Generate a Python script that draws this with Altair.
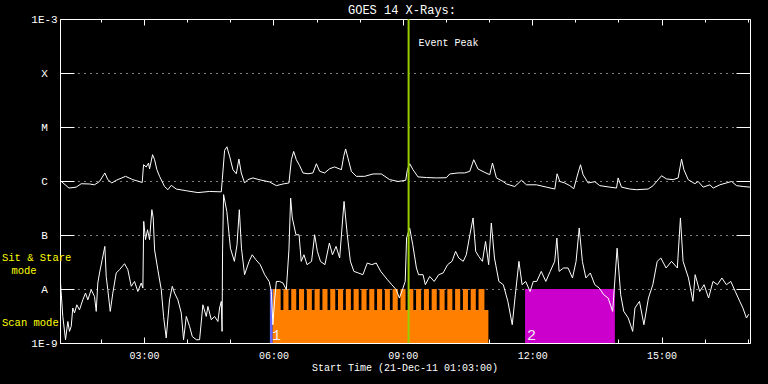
import altair as alt
import pandas as pd

FONT = "Liberation Mono"
ORANGE = "#FF8000"
MAGENTA = "#CC00CC"
BLUE = "#6464FF"
GREEN = "#99CC00"
YELLOW = "#FFFF00"

# ---------------- axes / labels ----------------
title_text = "GOES 14 X-Rays:"
x_title_text = "Start Time (21-Dec-11 01:03:00)"
t_start, t_end = 63, 1023                      # minutes after 00:00 UT
hour_ticks = [120, 180, 240, 300, 360, 420, 480, 540, 600, 660, 720, 780, 840, 900, 960, 1020]
labeled_hours = [180, 360, 540, 720, 900]
y_tick_values = [1e-9, 1e-8, 1e-7, 1e-6, 1e-5, 1e-4, 1e-3]
y_tick_labels = ["1E-9", "A", "B", "C", "M", "X", "1E-3"]

# ---------------- GOES long channel (1-8 A) ----------------
long_t = [63.0, 75.5, 85.6, 92.5, 104.1, 111.0, 118.0, 125.4, 129.5, 135.1,
          141.2, 154.2, 164.3, 177.4, 179.2, 183.0, 186.2, 187.6, 191.8, 194.6,
          197.8, 201.5, 208.5, 213.1, 217.8, 224.8, 238.7, 254.8, 271.1, 287.4,
          288.8, 292.0, 295.2, 299.0, 303.6, 308.3, 311.9, 315.2, 319.8, 324.4,
          331.4, 339.8, 354.6, 364.0, 373.2, 381.5, 384.9, 388.1, 391.8, 396.4,
          401.0, 408.0, 414.9, 419.7, 424.3, 431.2, 438.2, 445.1, 454.5, 457.7,
          460.4, 463.6, 468.4, 475.3, 486.9, 498.5, 510.1, 521.7, 533.3, 544.0,
          546.3, 549.5, 554.1, 561.1, 572.8, 586.7, 600.6, 605.2, 616.8, 626.1,
          633.1, 638.6, 644.6, 654.0, 660.9, 664.7, 670.2, 679.4, 684.2, 695.7,
          705.0, 712.0, 725.9, 739.8, 751.4, 754.6, 758.4, 765.3, 772.3, 777.8,
          783.8, 787.2, 790.8, 797.8, 807.1, 814.0, 828.0, 837.3, 839.5, 844.2,
          855.8, 865.1, 881.3, 888.2, 899.9, 906.9, 916.1, 923.0, 927.8, 931.0,
          937.0, 946.3, 950.9, 957.8, 967.2, 971.8, 981.1, 997.4, 1004.3, 1013.5,
          1022.9]
long_f = [1.03e-6, 7.4e-7, 7.7e-7, 8.9e-7, 8.8e-7, 8.5e-7, 9.8e-7, 1.41e-6, 1.06e-6, 9.2e-7,
          1.03e-6, 1.22e-6, 1.06e-6, 9.4e-7, 2.0e-6, 1.82e-6, 2.15e-6, 1.67e-6, 3.07e-6, 2.48e-6,
          1.62e-6, 1.22e-6, 7.9e-7, 6.9e-7, 8.3e-7, 7.1e-7, 6.6e-7, 6.1e-7, 6.4e-7, 6.3e-7,
          1.06e-6, 3.7e-6, 4.3e-6, 2.86e-6, 1.62e-6, 1.36e-6, 2.55e-6, 1.41e-6, 9.2e-7, 1.06e-6,
          1.14e-6, 1.06e-6, 9.6e-7, 8.2e-7, 8.8e-7, 9.2e-7, 2.48e-6, 3.53e-6, 2.48e-6, 1.92e-6,
          1.41e-6, 1.36e-6, 1.41e-6, 2.09e-6, 1.51e-6, 1.41e-6, 1.69e-6, 1.82e-6, 1.62e-6, 2.86e-6,
          3.92e-6, 2.67e-6, 1.51e-6, 1.22e-6, 1.22e-6, 1.35e-6, 1.35e-6, 1.06e-6, 9.8e-7, 1.03e-6,
          1.62e-6, 2.09e-6, 1.62e-6, 1.19e-6, 1.16e-6, 1.14e-6, 1.15e-6, 1.35e-6, 1.41e-6, 1.41e-6,
          1.51e-6, 2.48e-6, 1.67e-6, 1.44e-6, 1.31e-6, 2.15e-6, 1.14e-6, 9.8e-7, 8.8e-7, 7.9e-7,
          1.03e-6, 8.5e-7, 8.5e-7, 7.7e-7, 7.1e-7, 1.36e-6, 9.8e-7, 9.2e-7, 8.2e-7, 7.2e-7,
          1.41e-6, 2.0e-6, 1.31e-6, 9.2e-7, 9.7e-7, 8.2e-7, 7.7e-7, 7.4e-7, 1.14e-6, 7.7e-7,
          7.1e-7, 6.9e-7, 7.1e-7, 8.2e-7, 1.25e-6, 1.09e-6, 1.06e-6, 1.14e-6, 2.55e-6, 1.62e-6,
          1.06e-6, 8.9e-7, 9.8e-7, 7.7e-7, 8.5e-7, 7.4e-7, 8.5e-7, 9.8e-7, 8.2e-7, 7.9e-7,
          7.7e-7]

# ---------------- GOES short channel (0.5-4 A) ----------------
short_t = [63.7, 66.9, 70.7, 73.9, 76.2, 78.6, 80.8, 83.2, 86.4, 90.1,
           94.7, 98.5, 101.7, 106.4, 111.0, 113.4, 115.6, 118.0, 121.7, 125.4,
           127.3, 129.5, 132.9, 136.5, 141.2, 145.8, 152.8, 157.4, 162.1, 166.7,
           171.3, 176.0, 178.3, 179.5, 182.0, 184.8, 187.6, 190.8, 192.7, 194.6,
           199.1, 203.9, 207.1, 210.8, 215.4, 219.2, 222.4, 227.0, 231.7, 234.9,
           238.7, 243.3, 247.0, 252.6, 257.2, 261.8, 266.5, 268.8, 273.5, 278.1,
           282.7, 285.0, 287.4, 288.5, 289.2, 290.6, 295.1, 300.1, 305.6, 309.3,
           312.5, 315.5, 319.8, 326.1, 330.4, 335.4, 341.6, 347.8, 354.0, 357.0,
           359.2, 361.6, 364.0, 368.6, 373.2, 377.9, 381.5, 383.9, 386.2, 391.3,
           395.6, 398.6, 402.4, 406.7, 413.0, 417.3, 421.1, 425.4, 431.6, 437.8,
           442.1, 447.1, 452.1, 458.2, 462.7, 467.0, 471.9, 478.1, 484.4, 490.5,
           496.8, 502.9, 509.2, 518.5, 524.6, 530.9, 535.2, 540.2, 543.3, 545.2,
           549.5, 553.8, 558.9, 561.9, 568.1, 571.3, 577.4, 583.6, 589.9, 596.0,
           602.3, 608.4, 613.4, 617.8, 624.0, 628.3, 633.3, 637.7, 641.4, 645.7,
           650.7, 655.1, 659.4, 663.1, 667.5, 673.6, 679.8, 686.1, 692.2, 696.5,
           701.5, 705.9, 710.9, 717.0, 721.5, 726.3, 732.6, 738.9, 745.0, 751.3,
           754.3, 757.4, 763.6, 769.9, 776.0, 781.0, 785.4, 789.8, 794.7, 800.8,
           807.1, 813.3, 819.6, 825.7, 831.9, 838.1, 843.1, 847.4, 853.6, 859.8,
           862.9, 869.2, 875.4, 881.7, 887.8, 893.9, 898.9, 906.3, 913.8, 921.9,
           926.2, 929.9, 937.4, 943.6, 946.7, 953.0, 959.1, 965.4, 971.5, 977.7,
           983.9, 990.1, 996.3, 1002.5, 1008.8, 1013.1, 1018.1, 1021.2]
short_f = [1.29e-8, 3.1e-9, 1.15e-9, 2.5e-9, 1.64e-9, 2.03e-9, 4.45e-9, 3.6e-9, 5.1e-9, 4.1e-9,
           6.3e-9, 8.4e-9, 6.3e-9, 9.7e-9, 7.3e-9, 3.85e-9, 1.29e-8, 1.98e-8, 3.5e-8, 6.15e-8,
           1.71e-8, 9.7e-9, 3.85e-9, 8.4e-9, 1.98e-8, 2.28e-8, 2.94e-8, 2.28e-8, 1.12e-8, 1.38e-8,
           9.0e-9, 1.29e-8, 1.04e-8, 1.79e-7, 8.2e-8, 1.25e-7, 8.2e-8, 2.94e-7, 2.07e-7, 5.3e-8,
           2.28e-8, 9.7e-9, 3.1e-9, 1.24e-9, 6.3e-9, 1.12e-8, 8.4e-9, 6.3e-9, 3.6e-9, 1.15e-9,
           3.1e-9, 2.03e-9, 1.32e-9, 1.15e-9, 1.15e-9, 5.1e-9, 3.1e-9, 4.76e-9, 2.7e-9, 3.1e-9,
           2.5e-9, 4.45e-9, 5.9e-9, 1.64e-9, 5.3e-8, 5.6e-7, 2.73e-7, 5.7e-8, 3.25e-8, 6.6e-8,
           2.94e-7, 5.7e-8, 1.84e-8, 3.25e-8, 4.3e-8, 3.5e-8, 2.82e-8, 1.84e-8, 1.38e-8, 9.0e-9,
           2.18e-9, 6.3e-9, 1.38e-8, 1.38e-8, 1.29e-8, 9.7e-9, 5.3e-8, 4.84e-7, 2.07e-7, 1.01e-7,
           1.01e-7, 3.25e-8, 4.3e-8, 2.82e-8, 3.25e-8, 1.01e-7, 4.97e-8, 3.25e-8, 2.82e-8, 7.1e-8,
           4.3e-8, 6.15e-8, 3.75e-8, 4.19e-7, 1.01e-7, 3.25e-8, 2.12e-8, 1.98e-8, 1.84e-8, 3.03e-8,
           2.82e-8, 3.03e-8, 2.12e-8, 1.49e-8, 1.2e-8, 9.7e-9, 6.8e-9, 1.04e-8, 1.38e-8, 8.8e-8,
           1.35e-7, 6.6e-8, 2.45e-8, 1.84e-8, 1.84e-8, 1.2e-8, 1.71e-8, 1.38e-8, 1.84e-8, 1.98e-8,
           2.82e-8, 3.25e-8, 4.97e-8, 3.75e-8, 3.25e-8, 4.3e-8, 1.01e-7, 2.07e-7, 4.97e-8, 4.0e-8,
           3.25e-8, 7.6e-8, 2.82e-8, 1.67e-7, 3.75e-8, 1.38e-8, 1.2e-8, 5.9e-9, 2.18e-9, 7.8e-9,
           3.25e-8, 1.2e-8, 1.38e-8, 9.0e-9, 1.38e-8, 1.38e-8, 2.12e-8, 1.38e-8, 2.12e-8, 3.25e-8,
           8.8e-8, 2.12e-8, 2.45e-8, 2.45e-8, 1.6e-8, 3.25e-8, 1.35e-7, 3.25e-8, 1.6e-8, 1.98e-8,
           1.2e-8, 1.04e-8, 7.8e-9, 6.8e-9, 3.85e-9, 5.7e-8, 7.8e-9, 3.85e-9, 2.9e-9, 1.64e-9,
           4.45e-9, 5.9e-9, 2.18e-9, 6.8e-9, 1.2e-8, 3.25e-8, 3.75e-8, 2.45e-8, 3.25e-8, 2.45e-8,
           2.07e-7, 3.25e-8, 1.6e-8, 5.9e-9, 1.84e-8, 9.0e-9, 1.2e-8, 6.8e-9, 1.38e-8, 1.2e-8,
           1.6e-8, 1.2e-8, 1.38e-8, 9.0e-9, 5.9e-9, 4.45e-9, 2.9e-9, 3.4e-9]

# ---------------- observation intervals ----------------
obs_program = ["prog0", "prog1", "prog2"]
obs_label = ["1", "", "2"]
obs_start = [355, 359, 710]
obs_end = [359, 659, 835]
obs_top = [1e-8, 4.1e-9, 1e-8]
# sit & stare blocks within program 1 (minutes)
sas_start = [359.2, 373.8, 384.7, 395.5, 406.4, 417.2, 428.1, 439.0, 449.8, 460.7,
             471.5, 482.4, 493.3, 504.1, 515.0, 525.8, 536.7, 547.6, 558.4, 569.3,
             580.1, 591.0, 601.9, 612.7, 623.6, 634.4, 645.3]
sas_end = [370.0, 380.9, 391.7, 402.6, 413.4, 424.3, 435.2, 446.0, 456.9, 467.7,
           478.6, 489.5, 500.3, 511.2, 522.0, 532.9, 543.8, 554.6, 565.5, 576.3,
           587.2, 598.1, 608.9, 619.8, 630.6, 641.5, 653.5]
sas_top = 1e-8
floor_flux = 1e-9

peak_t = [548]
peak_label = ["Event Peak"]

# ---------------- tables ----------------
long_df = pd.DataFrame({"t": long_t, "flux": long_f})
short_df = pd.DataFrame({"t": short_t, "flux": short_f})
obs_df = pd.DataFrame({"program": obs_program, "label": obs_label, "start": obs_start,
                       "end": obs_end, "top": obs_top, "lo": [floor_flux] * len(obs_start)})
sas_df = pd.DataFrame({"start": sas_start, "end": sas_end,
                       "lo": [floor_flux] * len(sas_start), "top": [sas_top] * len(sas_start)})
peak_df = pd.DataFrame({"t": peak_t, "label": peak_label})

W, H = 690, 324
x_scale = alt.Scale(domain=[t_start, t_end], nice=False, zero=False)
y_scale = alt.Scale(type="log", domain=[1e-9, 1e-3], nice=False)

y_label_expr = "[" + ",".join("'" + s + "'" for s in y_tick_labels) + "][round(log(datum.value)/LN10) + 9]"
x_label_expr = "(datum.value < 600 ? '0' : '') + floor(datum.value / 60) + ':00'"

common = dict(domain=False, grid=False, title=None, tickColor="white", tickWidth=1)

axis_bottom_labels = alt.Axis(orient="bottom", values=labeled_hours, labelExpr=x_label_expr,
                              ticks=False, tickSize=0, labelPadding=7, labelFont=FONT,
                              labelFontSize=10, labelColor="white", labelFlush=False,
                              labelOverlap=False, **common)
axis_bottom_minor = alt.Axis(orient="bottom", values=hour_ticks, labels=False, tickSize=4, offset=-4, **common)
axis_bottom_major = alt.Axis(orient="bottom", values=labeled_hours, labels=False, tickSize=6, offset=-6, **common)
axis_top_minor = alt.Axis(orient="top", values=hour_ticks, labels=False, tickSize=3, offset=-3, **common)
axis_top_major = alt.Axis(orient="top", values=labeled_hours, labels=False, tickSize=6, offset=-6, **common)

axis_left = alt.Axis(orient="left", values=y_tick_values, labelExpr=y_label_expr, tickSize=14, offset=-14,
                     tickColor="white", tickWidth=1, domain=False, grid=True, gridColor="white",
                     gridDash=[1, 5], gridOpacity=1, gridWidth=1, labelAlign="center",
                     labelBaseline="middle", labelPadding=16, labelFont=FONT, labelFontSize=11,
                     labelColor="white", labelOverlap=False, title=None)
axis_right = alt.Axis(orient="right", values=y_tick_values, labels=False, tickSize=14, offset=-14, **common)

color_scale = alt.Scale(domain=obs_program, range=[BLUE, ORANGE, MAGENTA])

obs_rects = alt.Chart(obs_df).mark_rect().encode(
    x=alt.X("start:Q", scale=x_scale, axis=axis_bottom_labels),
    x2="end:Q",
    y=alt.Y("lo:Q", scale=y_scale, axis=axis_left),
    y2="top:Q",
    color=alt.Color("program:N", scale=color_scale, legend=None),
)

sas_rects = alt.Chart(sas_df).mark_rect(color=ORANGE).encode(
    x=alt.X("start:Q", scale=x_scale, axis=axis_bottom_minor),
    x2="end:Q",
    y=alt.Y("lo:Q", scale=y_scale, axis=axis_right),
    y2="top:Q",
)

long_line = alt.Chart(long_df).mark_line(color="white", strokeWidth=1).encode(
    x=alt.X("t:Q", scale=x_scale, axis=axis_bottom_major),
    y=alt.Y("flux:Q", scale=y_scale, axis=None),
)

short_line = alt.Chart(short_df).mark_line(color="white", strokeWidth=1).encode(
    x=alt.X("t:Q", scale=x_scale, axis=axis_top_minor),
    y=alt.Y("flux:Q", scale=y_scale, axis=None),
)

peak_rule = alt.Chart(peak_df).mark_rule(color=GREEN, strokeWidth=2).encode(
    x=alt.X("t:Q", scale=x_scale, axis=axis_top_major),
)

peak_text = alt.Chart(peak_df).mark_text(align="left", baseline="middle", dx=10, y=24,
                                         font=FONT, fontSize=10, color="white").encode(
    x=alt.X("t:Q", scale=x_scale, axis=None),
    text="label:N",
)

obs_text = alt.Chart(obs_df).mark_text(align="left", baseline="alphabetic", dx=2, dy=-3,
                                       font=FONT, fontSize=15, color="#F4EAF4").encode(
    x=alt.X("start:Q", scale=x_scale, axis=None),
    y=alt.Y("lo:Q", scale=y_scale, axis=None),
    text="label:N",
)

def fixed_text(label, x, y, color="white", size=10, align="left"):
    return alt.Chart(pd.DataFrame({"label": [label]})).mark_text(
        x=x, y=y, align=align, baseline="middle", font=FONT, fontSize=size, color=color
    ).encode(text="label:N")

title_layer = fixed_text(title_text, 342, -9.5, size=12, align="center")
xtitle_layer = fixed_text(x_title_text, 345, 349, size=10, align="center")
sit_layer = fixed_text("Sit & Stare", -58, 239, color=YELLOW, size=10.5)
mode_layer = fixed_text("mode", -36, 252, color=YELLOW, size=10.5, align="center")
scan_layer = fixed_text("Scan mode", -58, 304, color=YELLOW, size=10.5)

chart = alt.layer(
    obs_rects, sas_rects, long_line, short_line, peak_rule, peak_text, obs_text,
    title_layer, xtitle_layer, sit_layer, mode_layer, scan_layer,
).resolve_axis(
    x="independent", y="independent"
).properties(
    width=W, height=H,
    autosize=alt.AutoSizeParams(type="none"),
    padding={"left": 60, "top": 19, "right": 18, "bottom": 41},
    background="black",
).configure_view(
    stroke="white", strokeWidth=1
).configure_axis(
    grid=False
)

chart.save("out.html", embed_options={"renderer": "svg", "actions": False})
